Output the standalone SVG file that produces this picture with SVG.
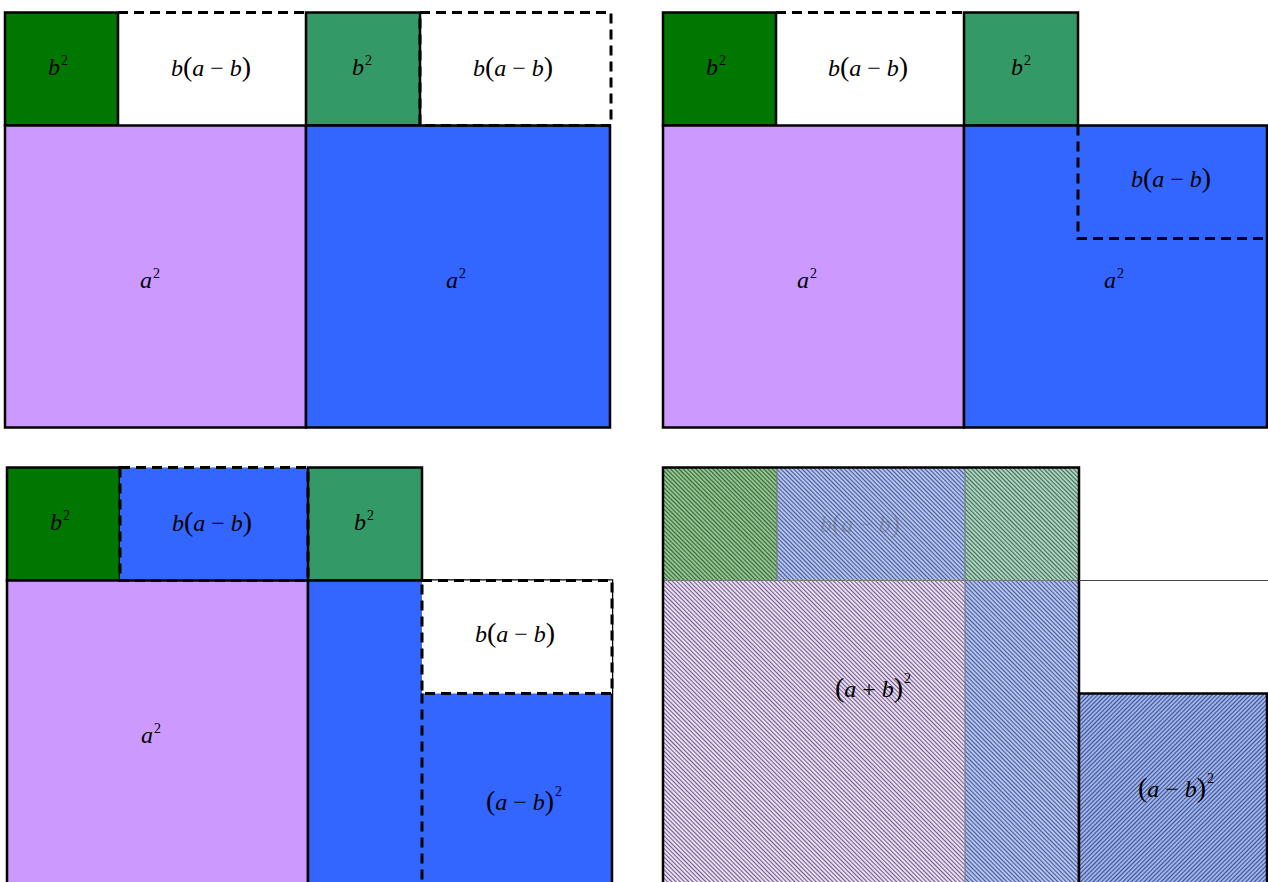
<svg xmlns="http://www.w3.org/2000/svg" width="1268" height="882" viewBox="0 0 1268 882">
<style>
.b{stroke:#000;stroke-width:2.5}
.d{fill:none;stroke:#000;stroke-width:3;stroke-dasharray:10 6}
.w{fill:#fff}
.g{fill:#007700}
.t{fill:#339966}
.p{fill:#cc99ff}
.bl{fill:#3366ff}
.m{font-family:"Liberation Serif","DejaVu Serif",serif;font-style:italic;font-size:24px;fill:#000;text-anchor:middle}
.u{font-style:normal}
.pr{font-style:normal;font-size:28px}
.s{font-style:normal;font-size:14px}
.hc{stroke:#777;stroke-width:1}
</style>
<defs>
<pattern id="hb" patternUnits="userSpaceOnUse" width="3" height="3" patternTransform="rotate(45)">
<line x1="0" y1="1.5" x2="3" y2="1.5" stroke="#000" stroke-width="0.8" stroke-opacity="0.7"/>
</pattern>
<pattern id="hf" patternUnits="userSpaceOnUse" width="3" height="3" patternTransform="rotate(-45)">
<line x1="0" y1="1.5" x2="3" y2="1.5" stroke="#000" stroke-width="0.8" stroke-opacity="0.7"/>
</pattern>
</defs>

<g id="panel1">
<rect id="p1-b2a" class="g b" x="5" y="12.5" width="113" height="113"/>
<rect id="p1-b2b" class="t b" x="306" y="12.5" width="114" height="113"/>
<rect id="p1-a2a" class="p b" x="5" y="125.5" width="301" height="302"/>
<rect id="p1-a2b" class="bl b" x="306" y="125.5" width="304" height="302"/>
<path class="d" d="M118,12.5 H306"/>
<rect class="d" x="420" y="12.5" width="191" height="113"/>
<text class="m" x="58" y="75">b<tspan class="s" dx="1" dy="-10">2</tspan></text>
<text class="m" x="211" y="76">b<tspan class="pr">(</tspan>a<tspan class="u"> − </tspan>b<tspan class="pr">)</tspan></text>
<text class="m" x="362" y="75">b<tspan class="s" dx="1" dy="-10">2</tspan></text>
<text class="m" x="513" y="76">b<tspan class="pr">(</tspan>a<tspan class="u"> − </tspan>b<tspan class="pr">)</tspan></text>
<text class="m" x="150" y="288">a<tspan class="s" dx="1" dy="-10">2</tspan></text>
<text class="m" x="456" y="288">a<tspan class="s" dx="1" dy="-10">2</tspan></text>
</g>

<g id="panel2">
<rect id="p2-b2a" class="g b" x="663" y="12.5" width="113" height="113"/>
<rect id="p2-b2b" class="t b" x="964" y="12.5" width="114" height="113"/>
<rect id="p2-a2a" class="p b" x="663" y="125.5" width="301" height="302"/>
<rect id="p2-a2b" class="bl b" x="964" y="125.5" width="303" height="302"/>
<path class="d" d="M776,12.5 H964"/>
<path class="d" d="M1078,125.5 V238.5 H1267"/>
<text class="m" x="716" y="75">b<tspan class="s" dx="1" dy="-10">2</tspan></text>
<text class="m" x="868" y="76">b<tspan class="pr">(</tspan>a<tspan class="u"> − </tspan>b<tspan class="pr">)</tspan></text>
<text class="m" x="1021" y="75">b<tspan class="s" dx="1" dy="-10">2</tspan></text>
<text class="m" x="1171" y="187">b<tspan class="pr">(</tspan>a<tspan class="u"> − </tspan>b<tspan class="pr">)</tspan></text>
<text class="m" x="807" y="288">a<tspan class="s" dx="1" dy="-10">2</tspan></text>
<text class="m" x="1114" y="288">a<tspan class="s" dx="1" dy="-10">2</tspan></text>
</g>

<g id="panel3">
<rect id="p3-b2a" class="g b" x="7" y="467.5" width="113" height="113"/>
<rect id="p3-bab" class="bl" x="120" y="467.5" width="188" height="113"/>
<rect id="p3-b2b" class="t b" x="308" y="467.5" width="114" height="113"/>
<rect id="p3-a2a" class="p b" x="7" y="580.5" width="301" height="303"/>
<rect id="p3-a2b" class="bl b" x="308" y="580.5" width="304" height="303"/>
<rect class="d" x="120" y="467.5" width="188" height="113"/>
<rect id="p3-w" class="w" x="422" y="580.5" width="190" height="113"/>
<rect class="d" x="422" y="580.5" width="190" height="113"/>
<path class="d" d="M422,693.5 V882"/>
<text class="m" x="60" y="530">b<tspan class="s" dx="1" dy="-10">2</tspan></text>
<text class="m" x="212" y="531">b<tspan class="pr">(</tspan>a<tspan class="u"> − </tspan>b<tspan class="pr">)</tspan></text>
<text class="m" x="364" y="530">b<tspan class="s" dx="1" dy="-10">2</tspan></text>
<text class="m" x="515" y="642">b<tspan class="pr">(</tspan>a<tspan class="u"> − </tspan>b<tspan class="pr">)</tspan></text>
<text class="m" x="151" y="743">a<tspan class="s" dx="1" dy="-10">2</tspan></text>
<text class="m" x="524" y="810"><tspan class="pr">(</tspan>a<tspan class="u"> − </tspan>b<tspan class="pr">)</tspan><tspan class="s" dx="1" dy="-14">2</tspan></text>
</g>

<g id="panel4">
<g id="p4-cells">
<rect fill="#8cc88c" x="663" y="467.5" width="114" height="113"/>
<rect fill="#aec3ff" x="777" y="467.5" width="188" height="113"/>
<rect fill="#a6d6be" x="965" y="467.5" width="114" height="113"/>
<rect fill="#ecdaff" x="663" y="580.5" width="302" height="302"/>
<rect fill="#aec3ff" x="965" y="580.5" width="114" height="302"/>
<rect fill="url(#hb)" x="663" y="467.5" width="416" height="415"/>
<path class="hc" d="M777,467.5 V580.5 M965,467.5 V882 M663,580.5 H1079"/>
</g>
<rect class="b" fill="none" x="663" y="467.5" width="416" height="416"/>
<path stroke="#444" stroke-width="1" d="M1079,580.5 H1268"/>
<g id="p4-amb">
<rect fill="#9ab2fa" x="1079" y="693.5" width="188" height="190"/>
<rect fill="url(#hf)" x="1079" y="693.5" width="188" height="190"/>
<rect class="b" fill="none" x="1079" y="693.5" width="188" height="190"/>
</g>
<text class="m" x="860" y="532" style="fill:#555;fill-opacity:0.35">b<tspan class="pr">(</tspan>a<tspan class="u"> − </tspan>b<tspan class="pr">)</tspan></text>
<text class="m" x="873" y="697"><tspan class="pr">(</tspan>a<tspan class="u"> + </tspan>b<tspan class="pr">)</tspan><tspan class="s" dx="1" dy="-14">2</tspan></text>
<text class="m" x="1176" y="797"><tspan class="pr">(</tspan>a<tspan class="u"> − </tspan>b<tspan class="pr">)</tspan><tspan class="s" dx="1" dy="-14">2</tspan></text>
</g>
</svg>
